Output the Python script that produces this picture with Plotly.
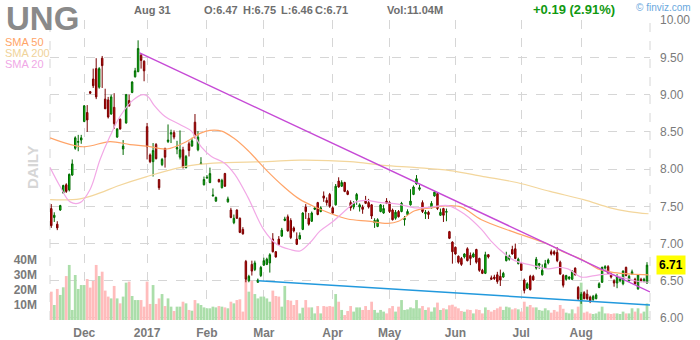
import plotly.graph_objects as go
import pandas as pd

# ---------------- data ----------------
HOLIDAYS = ["2016-11-24", "2016-12-26", "2017-01-02", "2017-01-16",
            "2017-02-20", "2017-04-14", "2017-05-29", "2017-07-04"]
dates = [d for d in pd.bdate_range("2016-11-15", "2017-08-31")
         if d.strftime("%Y-%m-%d") not in HOLIDAYS]

opens = [
    7.47, 7.35, 7.26, 7.45, 7.68, 7.79, 7.72, 7.92, 8.28, 8.36,
    8.39, 8.64, 8.76, 9.04, 9.21, 9.35, 9.10, 9.49, 8.94, 8.93,
    8.74, 8.83, 8.43, 8.67, 8.27, 8.62, 8.92, 9.03, 9.24, 9.31,
    9.53, 9.45, 8.57, 8.19, 8.10, 8.33, 7.86, 8.06, 8.28, 8.37,
    8.47, 8.49, 8.27, 8.16, 8.26, 8.02, 8.34, 8.31, 8.63, 8.26,
    8.07, 7.79, 7.88, 7.82, 7.64, 7.57, 7.86, 7.75, 7.94, 7.56,
    7.45, 7.28, 7.45, 7.34, 7.19, 6.76, 6.50, 6.72, 6.65, 6.48,
    6.57, 6.71, 6.72, 6.74, 7.06, 6.89, 7.06, 7.10, 7.31, 7.36,
    7.31, 7.21, 7.06, 7.06, 7.19, 7.49, 7.34, 7.30, 7.46, 7.55,
    7.43, 7.64, 7.58, 7.66, 7.48, 7.52, 7.84, 7.77, 7.82, 7.70,
    7.55, 7.49, 7.59, 7.49, 7.49, 7.58, 7.55, 7.52, 7.28, 7.23,
    7.43, 7.41, 7.57, 7.55, 7.45, 7.34, 7.43, 7.43, 7.32, 7.39,
    7.52, 7.66, 7.80, 7.73, 7.55, 7.40, 7.42, 7.48, 7.64, 7.67,
    7.38, 7.47, 7.42, 7.16, 7.02, 6.95, 6.83, 6.80, 6.82, 6.93,
    6.84, 6.82, 6.92, 6.80, 6.64, 6.60, 6.85, 6.54, 6.55, 6.58,
    6.56, 6.55, 6.77, 6.79, 6.92, 6.93, 6.73, 6.73, 6.51, 6.40,
    6.56, 6.56, 6.67, 6.71, 6.58, 6.67, 6.74, 6.89, 6.89, 6.88,
    6.75, 6.57, 6.52, 6.53, 6.52, 6.67, 6.41, 6.23, 6.34, 6.32,
    6.28, 6.25, 6.26, 6.41, 6.48, 6.67, 6.69, 6.59, 6.50, 6.47,
    6.50, 6.46, 6.68, 6.50, 6.59, 6.52, 6.39, 6.52, 6.50, 6.47,
]
highs = [
    7.53, 7.42, 7.30, 7.52, 7.79, 7.81, 7.94, 8.13, 8.44, 8.46,
    8.46, 8.86, 8.86, 9.05, 9.35, 9.49, 9.37, 9.52, 9.08, 8.97,
    9.00, 9.02, 8.55, 8.68, 8.39, 9.01, 9.00, 9.18, 9.36, 9.73,
    9.55, 9.46, 8.62, 8.21, 8.35, 8.35, 7.86, 8.15, 8.28, 8.60,
    8.53, 8.52, 8.38, 8.52, 8.30, 8.19, 8.37, 8.42, 8.74, 8.51,
    8.16, 7.90, 7.92, 8.02, 7.74, 7.63, 7.87, 7.87, 7.95, 7.63,
    7.48, 7.39, 7.46, 7.35, 7.22, 6.78, 6.58, 6.77, 6.77, 6.53,
    6.70, 6.81, 6.81, 6.87, 7.14, 6.90, 7.10, 7.21, 7.36, 7.39,
    7.34, 7.23, 7.15, 7.15, 7.42, 7.53, 7.41, 7.43, 7.50, 7.56,
    7.50, 7.70, 7.62, 7.68, 7.50, 7.80, 7.89, 7.85, 7.83, 7.72,
    7.58, 7.57, 7.68, 7.54, 7.52, 7.64, 7.60, 7.53, 7.34, 7.34,
    7.53, 7.52, 7.61, 7.57, 7.47, 7.45, 7.45, 7.56, 7.37, 7.46,
    7.73, 7.78, 7.92, 7.79, 7.58, 7.45, 7.44, 7.57, 7.70, 7.69,
    7.47, 7.48, 7.47, 7.17, 7.03, 6.96, 6.84, 6.82, 6.87, 6.95,
    6.88, 6.88, 6.93, 6.81, 6.66, 6.89, 6.86, 6.57, 6.58, 6.62,
    6.65, 6.62, 6.89, 6.85, 6.97, 7.00, 6.81, 6.75, 6.53, 6.48,
    6.58, 6.58, 6.82, 6.74, 6.72, 6.78, 6.80, 6.92, 6.91, 6.95,
    6.77, 6.59, 6.58, 6.56, 6.64, 6.68, 6.43, 6.35, 6.36, 6.38,
    6.30, 6.31, 6.33, 6.48, 6.69, 6.71, 6.71, 6.61, 6.52, 6.59,
    6.54, 6.64, 6.69, 6.58, 6.65, 6.54, 6.59, 6.54, 6.54, 6.75,
]
lows = [
    7.21, 7.29, 7.18, 7.44, 7.67, 7.68, 7.70, 7.91, 8.26, 8.24,
    8.34, 8.63, 8.50, 9.01, 9.09, 8.94, 9.08, 9.09, 8.81, 8.68,
    8.73, 8.54, 8.42, 8.53, 8.19, 8.61, 8.84, 9.02, 9.23, 9.30,
    9.35, 9.18, 8.13, 8.08, 7.90, 8.13, 7.72, 8.04, 8.02, 8.35,
    8.35, 8.40, 8.20, 8.13, 8.01, 8.01, 8.17, 8.30, 8.41, 8.24,
    8.06, 7.78, 7.87, 7.81, 7.63, 7.56, 7.82, 7.74, 7.76, 7.55,
    7.34, 7.26, 7.33, 7.14, 7.12, 6.48, 6.48, 6.57, 6.63, 6.47,
    6.55, 6.70, 6.71, 6.61, 6.88, 6.81, 6.98, 7.09, 7.30, 7.16,
    7.06, 7.15, 6.98, 7.06, 7.18, 7.33, 7.24, 7.29, 7.45, 7.38,
    7.42, 7.56, 7.51, 7.48, 7.40, 7.51, 7.75, 7.76, 7.69, 7.65,
    7.44, 7.46, 7.52, 7.43, 7.40, 7.53, 7.47, 7.33, 7.21, 7.22,
    7.42, 7.40, 7.53, 7.41, 7.31, 7.32, 7.35, 7.42, 7.24, 7.38,
    7.51, 7.65, 7.79, 7.71, 7.41, 7.33, 7.33, 7.47, 7.63, 7.45,
    7.37, 7.29, 7.30, 7.06, 6.73, 6.85, 6.73, 6.70, 6.80, 6.76,
    6.71, 6.81, 6.73, 6.62, 6.59, 6.59, 6.80, 6.51, 6.51, 6.46,
    6.43, 6.54, 6.76, 6.77, 6.85, 6.79, 6.72, 6.63, 6.33, 6.39,
    6.37, 6.50, 6.65, 6.66, 6.57, 6.66, 6.72, 6.84, 6.84, 6.75,
    6.58, 6.41, 6.50, 6.51, 6.51, 6.57, 6.24, 6.19, 6.25, 6.24,
    6.20, 6.23, 6.25, 6.40, 6.47, 6.65, 6.59, 6.53, 6.42, 6.40,
    6.48, 6.44, 6.56, 6.49, 6.58, 6.45, 6.38, 6.48, 6.48, 6.46,
]
closes = [
    7.24, 7.38, 7.21, 7.51, 7.78, 7.70, 7.93, 8.07, 8.42, 8.37,
    8.42, 8.85, 8.66, 9.02, 9.12, 8.97, 9.35, 9.39, 8.81, 8.70,
    8.97, 8.61, 8.54, 8.54, 8.31, 9.00, 8.85, 9.17, 9.32, 9.62,
    9.46, 9.32, 8.30, 8.10, 8.25, 8.14, 7.75, 8.13, 8.16, 8.39,
    8.49, 8.43, 8.29, 8.26, 8.02, 8.17, 8.25, 8.38, 8.44, 8.43,
    8.08, 7.86, 7.89, 7.94, 7.65, 7.62, 7.83, 7.85, 7.77, 7.60,
    7.35, 7.34, 7.34, 7.15, 7.13, 6.52, 6.56, 6.63, 6.74, 6.51,
    6.68, 6.77, 6.79, 6.85, 6.89, 6.82, 6.99, 7.18, 7.33, 7.17,
    7.08, 7.17, 6.99, 7.11, 7.41, 7.43, 7.26, 7.41, 7.48, 7.39,
    7.48, 7.61, 7.55, 7.50, 7.41, 7.77, 7.76, 7.82, 7.70, 7.66,
    7.48, 7.54, 7.66, 7.52, 7.46, 7.54, 7.49, 7.37, 7.31, 7.32,
    7.52, 7.47, 7.54, 7.43, 7.32, 7.42, 7.36, 7.54, 7.34, 7.43,
    7.57, 7.76, 7.87, 7.75, 7.43, 7.42, 7.39, 7.54, 7.69, 7.47,
    7.42, 7.38, 7.43, 7.07, 6.89, 6.86, 6.75, 6.72, 6.86, 6.77,
    6.80, 6.86, 6.75, 6.64, 6.60, 6.85, 6.82, 6.52, 6.53, 6.49,
    6.51, 6.60, 6.83, 6.83, 6.86, 6.80, 6.79, 6.64, 6.37, 6.46,
    6.38, 6.51, 6.79, 6.73, 6.64, 6.73, 6.78, 6.86, 6.86, 6.77,
    6.59, 6.44, 6.57, 6.55, 6.63, 6.58, 6.26, 6.32, 6.26, 6.26,
    6.23, 6.29, 6.31, 6.46, 6.68, 6.69, 6.60, 6.55, 6.47, 6.56,
    6.52, 6.63, 6.57, 6.56, 6.62, 6.46, 6.58, 6.50, 6.52, 6.71,
]
volumes_m = [
    18.9, 10.0, 20.7, 16.7, 21.8, 29.3, 36.7, 6.7, 30.0, 20.7,
    23.3, 23.3, 27.3, 21.6, 26.0, 36.7, 29.3, 32.2, 19.6, 15.6,
    14.4, 22.7, 14.4, 11.1, 15.6, 24.9, 25.6, 16.0, 13.3, 13.3,
    13.3, 8.9, 25.6, 10.7, 23.3, 10.7, 14.4, 17.3, 9.3, 14.4,
    8.9, 6.0, 8.9, 8.9, 12.2, 11.1, 6.7, 6.2, 13.3, 11.1,
    10.0, 8.4, 7.8, 7.8, 8.9, 8.4, 9.3, 8.9, 8.4, 7.8,
    12.2, 11.1, 13.3, 13.8, 5.6, 26.7, 18.9, 26.2, 17.3, 14.4,
    15.6, 15.6, 14.4, 12.2, 19.6, 16.0, 15.6, 8.9, 22.7, 13.3,
    12.9, 10.0, 13.3, 4.4, 8.2, 13.3, 8.4, 8.4, 4.4, 9.3,
    4.4, 9.3, 8.9, 9.3, 8.9, 17.3, 12.2, 6.7, 3.3, 6.0,
    9.3, 5.6, 8.4, 8.4, 6.7, 9.3, 6.7, 12.2, 6.7, 4.9,
    6.7, 5.6, 4.4, 7.8, 9.3, 5.6, 8.9, 13.3, 6.7, 7.1,
    8.4, 7.8, 13.3, 7.8, 9.3, 6.7, 8.4, 5.6, 8.4, 11.6,
    6.7, 7.8, 7.1, 9.8, 10.2, 8.9, 7.8, 6.0, 5.5, 7.0,
    6.7, 4.4, 7.1, 6.7, 4.4, 8.4, 6.7, 5.6, 6.7, 7.8,
    8.9, 6.7, 8.9, 8.4, 7.1, 7.8, 7.1, 5.6, 12.2, 8.9,
    10.0, 8.4, 8.4, 6.7, 6.2, 7.8, 6.5, 4.9, 6.7, 5.6,
    10.0, 7.5, 4.9, 4.4, 7.1, 4.4, 8.9, 24.9, 4.9, 5.6,
    4.4, 4.0, 4.4, 5.6, 8.9, 4.4, 4.4, 4.0, 4.4, 4.4,
    4.0, 5.6, 4.4, 4.4, 7.8, 5.6, 7.8, 4.4, 5.6, 11.04,
]

# moving averages, read at sample positions (trading-day index, price)
sma50_idx = [-0.4, 10.7, 19.6, 26.3, 31.9, 38.6, 45.2, 49.7, 53, 56.9, 60.8, 65.7,
             72, 77.5, 82.8, 88.7, 93.5, 99, 105.8, 112.5, 116, 121.4, 127, 132.6,
             137, 143.7, 154.8, 166, 171.5, 177.1, 182.6, 188.2, 193.7, 199.5]
sma50_val = [8.42, 8.30, 8.37, 8.33, 8.31, 8.27, 8.37, 8.48, 8.52, 8.51, 8.42, 8.25,
             7.98, 7.77, 7.60, 7.48, 7.40, 7.33, 7.30, 7.27, 7.30, 7.44, 7.48, 7.51,
             7.49, 7.32, 7.15, 6.99, 6.88, 6.79, 6.66, 6.61, 6.59, 6.58]
sma200_idx = [-0.4, 9.6, 16.3, 21.9, 31.9, 44.1, 54.1, 72, 83.1, 99.8, 110.9, 122.1,
              133.2, 144.3, 155.5, 166.6, 177.8, 186.7, 193, 199.5]
sma200_val = [7.59, 7.60, 7.68, 7.77, 7.90, 8.03, 8.08, 8.10, 8.12, 8.10, 8.05, 8.02,
              7.98, 7.90, 7.82, 7.70, 7.59, 7.48, 7.43, 7.40]
sma20_idx = [-0.4, 2.9, 6.3, 9.6, 13, 16.3, 19.6, 23, 27.4, 30.8, 32.4, 34.3, 37.9,
             43.4, 46.8, 50.1, 53.5, 57.9, 61.3, 65.7, 70.9, 75.3, 79.8, 83.1, 86.4,
             89.8, 94.2, 98.7, 101.2, 104.7, 110.3, 115.9, 121.4, 127, 132.6, 138.2,
             143.7, 147, 151.5, 154.8, 160.4, 166, 169.3, 172.6, 177.1, 181.5, 186,
             190.4, 194.9, 199.4]
sma20_val = [8.02, 7.77, 7.56, 7.55, 7.73, 8.13, 8.44, 8.71, 8.93, 9.00, 8.97, 8.86,
             8.71, 8.59, 8.51, 8.30, 8.17, 8.08, 7.93, 7.62, 7.19, 6.99, 6.92, 6.90,
             7.01, 7.17, 7.30, 7.46, 7.55, 7.58, 7.55, 7.53, 7.48, 7.49, 7.51, 7.39,
             7.19, 7.03, 6.86, 6.77, 6.71, 6.66, 6.68, 6.66, 6.55, 6.57, 6.59, 6.55,
             6.50, 6.48]

# trend lines (index, price)
resist_idx = [29.5, 200.0]
resist_val = [9.56, 6.35]
support_idx = [69.2, 200.0]
support_val = [6.50, 6.175]

price_ticks = [6.0, 6.5, 7.0, 7.5, 8.0, 8.5, 9.0, 9.5, 10.0]
vol_ticks_m = [10, 20, 30, 40]

# ---------------- figure ----------------
x = list(range(len(dates)))
month_pos = [i for i in range(1, len(dates)) if dates[i].month != dates[i - 1].month]
month_txt = [("<b>%d</b>" % dates[i].year) if dates[i].month == 1
             else "<b>%s</b>" % dates[i].strftime("%b") for i in month_pos]

GRID = "#d6d6d6"
GREY = "#7a7a7a"
FONT = "Liberation Sans, Arial, sans-serif"

vol_colors = ["#abdeaa" if c >= o else "#ffbcbc" for o, c in zip(opens, closes)]

fig = go.Figure()
fig.add_trace(go.Bar(x=x, y=[v * 1e6 for v in volumes_m], marker_color=vol_colors,
                     marker_line_width=0, width=0.92, yaxis="y", hoverinfo="skip"))
fig.add_trace(go.Scatter(x=sma200_idx, y=sma200_val, mode="lines", yaxis="y2",
                         line=dict(color="#f3d69c", width=1.2, shape="spline"), hoverinfo="skip"))
fig.add_trace(go.Scatter(x=sma50_idx, y=sma50_val, mode="lines", yaxis="y2",
                         line=dict(color="#ffa468", width=1.2, shape="spline"), hoverinfo="skip"))
fig.add_trace(go.Scatter(x=sma20_idx, y=sma20_val, mode="lines", yaxis="y2",
                         line=dict(color="#f2a8e6", width=1.2, shape="spline"), hoverinfo="skip"))
fig.add_trace(go.Scatter(x=resist_idx, y=resist_val, mode="lines", yaxis="y2",
                         line=dict(color="#c64ad6", width=1.4), hoverinfo="skip"))
fig.add_trace(go.Scatter(x=support_idx, y=support_val, mode="lines", yaxis="y2",
                         line=dict(color="#2299dd", width=1.4), hoverinfo="skip"))
fig.add_trace(go.Candlestick(
    x=x, open=opens, high=highs, low=lows, close=closes, yaxis="y2",
    increasing=dict(line=dict(color="#006a00", width=1), fillcolor="#10cc10"),
    decreasing=dict(line=dict(color="#7a0000", width=1), fillcolor="#d00000"),
    hoverinfo="skip"))

ann = []
def txt(px, py, s, size, color, anchor="left", bold=True, **kw):
    ann.append(dict(xref="paper", yref="paper", x=(px - 50) / 600.0, y=(320 - py) / 300.0,
                    xanchor=anchor, yanchor="middle", showarrow=False,
                    text=("<b>%s</b>" % s) if bold else s,
                    font=dict(family=FONT, size=size, color=color), **kw))

txt(4, 19, "UNG", 33, "#8a8a8a")
txt(3, 42, "SMA 50", 11, "#ffa468", bold=False)
txt(3, 53, "SMA 200", 11, "#f0d39a", bold=False)
txt(3, 64, "SMA 20", 11, "#f0a8e6", bold=False)
txt(32, 167, "DAILY", 15, "#d6d6d6", anchor="center", textangle=-90)
txt(132, 10, "Aug 31", 11, "#6e6e6e")
txt(202, 10, "O:%.2f" % opens[-1], 11, "#6e6e6e")
txt(241, 10, "H:%.2f" % highs[-1], 11, "#6e6e6e")
txt(279, 10, "L:%.2f" % lows[-1], 11, "#6e6e6e")
txt(313, 10, "C:%.2f" % closes[-1], 11, "#6e6e6e")
txt(385, 10, "Vol:%.2fM" % volumes_m[-1], 11, "#6e6e6e")
chg = closes[-1] - closes[-2]
txt(531, 10, "%+.2f (%.2f%%)" % (chg, chg / closes[-2] * 100), 13, "#119911")
txt(634, 8, "\u00a9 finviz.com", 10, "#6aa8de", bold=False)
ann.append(dict(xref="paper", yref="y2", x=(656 - 50) / 600.0, y=closes[-1],
                xanchor="left", yanchor="middle", showarrow=False,
                text="<b>%.2f</b>" % closes[-1], bgcolor="#ffff00", borderpad=2,
                font=dict(family=FONT, size=12, color="#000000")))

shapes = [dict(type="line", xref="paper", yref="paper", x0=xx, x1=xx, y0=0, y1=1,
               line=dict(color=GRID, width=1, dash="dash"), layer="below") for xx in (0, 1)]

fig.update_layout(
    width=700, height=340, margin=dict(l=50, r=50, t=20, b=20, autoexpand=False),
    paper_bgcolor="white", plot_bgcolor="white", showlegend=False,
    font=dict(family=FONT),
    annotations=ann, shapes=shapes,
    xaxis=dict(range=[-0.43, 200.0], tickvals=month_pos, ticktext=month_txt,
               showgrid=True, gridcolor=GRID, griddash="dash", gridwidth=1,
               zeroline=False, showline=False, ticks="", automargin=False,
               ticklabelstandoff=4,
               tickfont=dict(size=12, color=GREY), rangeslider=dict(visible=False)),
    yaxis=dict(range=[0, 200e6], tickvals=[v * 1e6 for v in vol_ticks_m],
               ticktext=["<b>%dM</b>" % v for v in vol_ticks_m], showgrid=False,
               zeroline=False, showline=False, ticks="", side="left", automargin=False,
               ticklabelstandoff=12, tickfont=dict(size=12, color=GREY)),
    yaxis2=dict(range=[5.973, 10.003], overlaying="y", side="right", automargin=False,
                tickvals=price_ticks, ticktext=["%.2f" % p for p in price_ticks],
                showgrid=True, gridcolor=GRID, griddash="dash", gridwidth=1,
                zeroline=False, showline=False, ticks="", ticklabelstandoff=9,
                tickfont=dict(size=12, color=GREY)),
)

fig.write_html("out.html")
